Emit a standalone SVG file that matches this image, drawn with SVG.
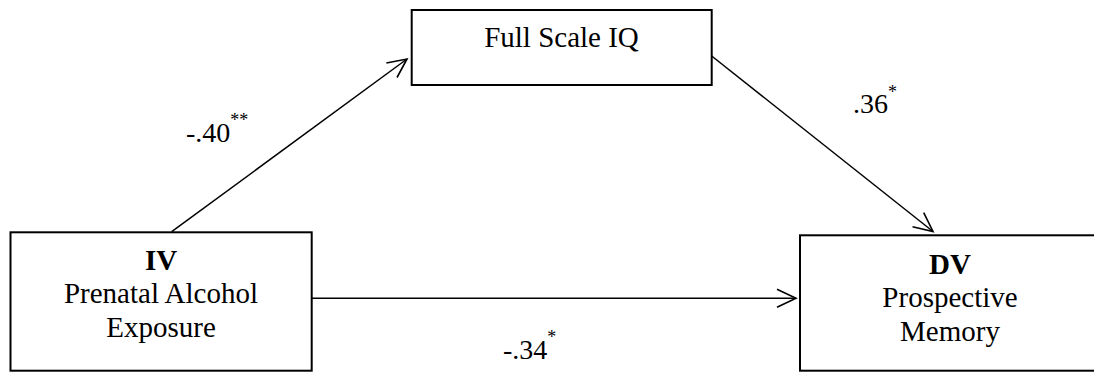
<svg xmlns="http://www.w3.org/2000/svg" width="1094" height="372" viewBox="0 0 1094 372">
  <style>
    .box { fill: #ffffff; stroke: #000000; stroke-width: 2; }
    .node-text { font-size: 29px; fill: #000000; text-anchor: middle; }
    .bold { font-weight: bold; }
    .label { font-size: 28px; fill: #000000; }
    .sup { font-size: 18px; }
    .edge { fill: none; stroke: #000000; stroke-width: 1.5; }
  </style>
  <defs>
    <marker id="open-arrow" markerUnits="userSpaceOnUse" markerWidth="24" markerHeight="24" viewBox="-22 -12 24 24" refX="0" refY="0" orient="auto">
      <path d="M -19,-9 L 0,0 L -19,9" fill="none" stroke="#000000" stroke-width="1.6"/>
    </marker>
  </defs>

  <rect width="1094" height="372" fill="#ffffff"/>

  <!-- Connectors -->
  <g id="connectors">
    <line class="edge" x1="171.7" y1="231.7" x2="407" y2="59" marker-end="url(#open-arrow)"/>
    <line class="edge" x1="711.7" y1="56" x2="933" y2="231.5" marker-end="url(#open-arrow)"/>
    <line class="edge" x1="311.7" y1="298.3" x2="796" y2="298.3" marker-end="url(#open-arrow)"/>
  </g>

  <g font-family="'Liberation Serif', 'DejaVu Serif', serif">
    <!-- Path coefficients -->
    <g id="labels">
      <text class="label" x="186" y="142">-.40<tspan class="sup" dy="-16">**</tspan></text>
      <text class="label" x="853" y="113">.36<tspan class="sup" dy="-15">*</tspan></text>
      <text class="label" x="503" y="359">-.34<tspan class="sup" dy="-16">*</tspan></text>
    </g>

    <!-- Mediator -->
    <g id="node-fsiq">
      <rect class="box" x="411.7" y="10" width="300" height="75"/>
      <text class="node-text" x="561.5" y="47">Full Scale IQ</text>
    </g>

    <!-- Independent variable -->
    <g id="node-iv">
      <rect class="box" x="10.5" y="232.3" width="301.2" height="138.4"/>
      <text class="node-text bold" x="161" y="270">IV</text>
      <text class="node-text" x="161" y="303">Prenatal Alcohol</text>
      <text class="node-text" x="161" y="337">Exposure</text>
    </g>

    <!-- Dependent variable -->
    <g id="node-dv">
      <rect class="box" x="800" y="235.3" width="300" height="135.4"/>
      <text class="node-text bold" x="950" y="274">DV</text>
      <text class="node-text" x="950" y="307">Prospective</text>
      <text class="node-text" x="950" y="341">Memory</text>
    </g>
  </g>
</svg>
